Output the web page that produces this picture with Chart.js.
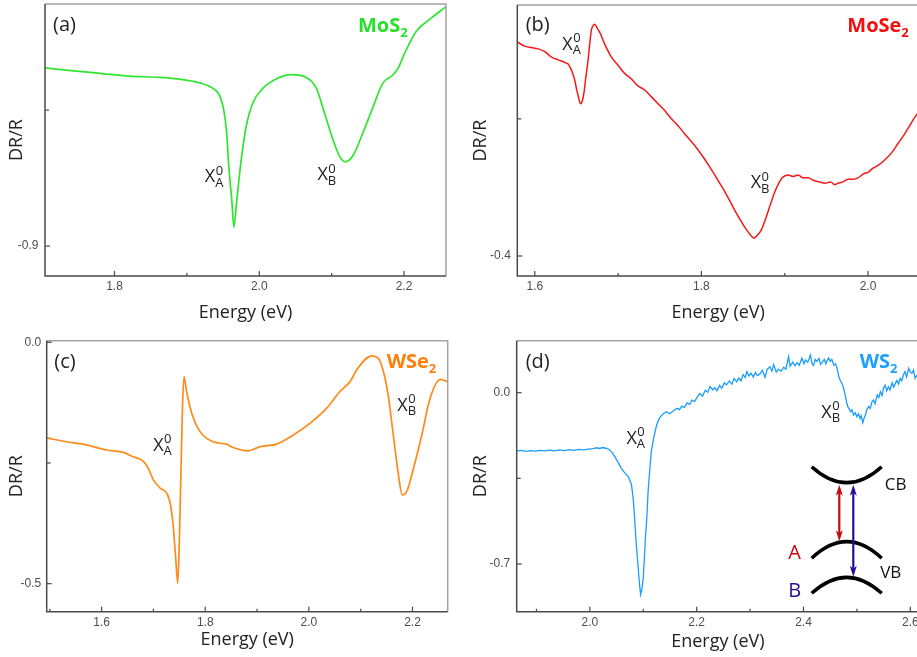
<!DOCTYPE html>
<html>
<head>
<meta charset="utf-8">
<title>Differential reflectance of TMD monolayers</title>
<script src="https://cdn.jsdelivr.net/npm/chart.js@4.4.1/dist/chart.umd.min.js"></script>
<style>
  html, body { margin: 0; padding: 0; background: #fff; overflow: hidden; }
  #wrap { position: relative; width: 917px; height: 657px; overflow: hidden; }
  canvas { position: absolute; }
</style>
</head>
<body>
<div id="wrap">
  <canvas id="panelA" width="458" height="325" style="left:0;top:0"></canvas>
  <canvas id="panelB" width="480" height="325" style="left:458px;top:0"></canvas>
  <canvas id="panelC" width="458" height="332" style="left:0;top:325px"></canvas>
  <canvas id="panelD" width="480" height="332" style="left:458px;top:325px"></canvas>
</div>
<script>
// (a) MoS2
const aEnergy = [1.704, 1.740, 1.780, 1.820, 1.863, 1.899, 1.918, 1.936, 1.945, 1.951,
  1.955, 1.958, 1.962, 1.965, 1.969, 1.975, 1.982, 1.991, 2.005, 2.024,
  2.044, 2.065, 2.079, 2.090, 2.102, 2.111, 2.119, 2.130, 2.143, 2.157,
  2.171, 2.185, 2.192, 2.201, 2.217, 2.236, 2.258]
const aSignal = [-0.769, -0.771, -0.773, -0.775, -0.776, -0.778, -0.780, -0.784, -0.789, -0.800,
  -0.817, -0.842, -0.866, -0.886, -0.866, -0.837, -0.812, -0.795, -0.784, -0.777,
  -0.774, -0.776, -0.784, -0.802, -0.822, -0.834, -0.838, -0.833, -0.817, -0.798,
  -0.780, -0.774, -0.769, -0.758, -0.742, -0.733, -0.724]
const aTicksX = [1.8, 2.0, 2.2]
const aMinorX = [1.9, 2.1]
const aTicksY = [-0.9]
const aMinorY = [-0.8]

// (b) MoSe2
const bEnergy = [1.579, 1.588, 1.596, 1.604, 1.612, 1.620, 1.628, 1.633, 1.636, 1.640,
  1.642, 1.645, 1.648, 1.650, 1.652, 1.654, 1.655, 1.657, 1.659, 1.661,
  1.664, 1.666, 1.668, 1.670, 1.672, 1.675, 1.678, 1.685, 1.692, 1.700,
  1.708, 1.716, 1.724, 1.732, 1.740, 1.748, 1.756, 1.764, 1.772, 1.780,
  1.790, 1.800, 1.810, 1.820, 1.828, 1.836, 1.844, 1.852, 1.858, 1.863,
  1.867, 1.872, 1.877, 1.882, 1.887, 1.892, 1.897, 1.904, 1.910, 1.916,
  1.922, 1.928, 1.935, 1.942, 1.948, 1.955, 1.960, 1.964, 1.970, 1.976,
  1.982, 1.988, 1.995, 2.000, 2.006, 2.012, 2.020, 2.028, 2.036, 2.044,
  2.050, 2.056, 2.062]
const bSignal = [-0.244, -0.247, -0.248, -0.249, -0.251, -0.255, -0.257, -0.258, -0.259, -0.260,
  -0.262, -0.266, -0.272, -0.278, -0.283, -0.288, -0.289, -0.287, -0.281, -0.271,
  -0.257, -0.245, -0.235, -0.232, -0.231, -0.234, -0.237, -0.247, -0.255, -0.261,
  -0.267, -0.271, -0.276, -0.279, -0.284, -0.289, -0.294, -0.300, -0.305, -0.311,
  -0.318, -0.326, -0.335, -0.345, -0.353, -0.362, -0.371, -0.379, -0.384, -0.387,
  -0.385, -0.381, -0.373, -0.364, -0.355, -0.348, -0.343, -0.341, -0.342, -0.341,
  -0.343, -0.343, -0.345, -0.346, -0.347, -0.346, -0.348, -0.347, -0.346, -0.344,
  -0.344, -0.343, -0.340, -0.339, -0.336, -0.334, -0.330, -0.325, -0.318, -0.311,
  -0.305, -0.299, -0.294]
const bTicksX = [1.6, 1.8, 2.0]
const bMinorX = [1.7, 1.9]
const bTicksY = [-0.4]
const bMinorY = [-0.3]

// (c) WSe2
const cEnergy = [1.494, 1.532, 1.564, 1.610, 1.642, 1.661, 1.680, 1.690, 1.700, 1.713,
  1.727, 1.733, 1.738, 1.743, 1.747, 1.750, 1.753, 1.756, 1.759, 1.764,
  1.774, 1.790, 1.815, 1.841, 1.854, 1.883, 1.906, 1.938, 1.970, 2.002,
  2.034, 2.060, 2.079, 2.095, 2.121, 2.134, 2.144, 2.153, 2.163, 2.173,
  2.180, 2.190, 2.202, 2.218, 2.234, 2.254, 2.268]
const cSignal = [-0.198, -0.206, -0.211, -0.223, -0.228, -0.237, -0.246, -0.261, -0.285, -0.302,
  -0.315, -0.337, -0.378, -0.447, -0.499, -0.413, -0.275, -0.137, -0.071, -0.102,
  -0.147, -0.185, -0.206, -0.211, -0.218, -0.225, -0.216, -0.211, -0.192, -0.168,
  -0.137, -0.102, -0.082, -0.053, -0.028, -0.033, -0.061, -0.109, -0.192, -0.275,
  -0.316, -0.306, -0.261, -0.192, -0.116, -0.077, -0.082]
const cTicksX = [1.6, 1.8, 2.0, 2.2]
const cMinorX = [1.5, 1.7, 1.9, 2.1]
const cTicksY = [0.0, -0.5]
const cMinorY = [-0.25]

// (d) WS2
const dEnergy = [1.863, 1.872, 1.880, 1.889, 1.898, 1.907, 1.916, 1.925, 1.934, 1.943,
  1.952, 1.961, 1.970, 1.979, 1.988, 1.997, 2.006, 2.013, 2.018, 2.024,
  2.030, 2.036, 2.042, 2.047, 2.053, 2.059, 2.066, 2.072, 2.078, 2.081,
  2.083, 2.085, 2.087, 2.090, 2.092, 2.094, 2.095, 2.097, 2.100, 2.102,
  2.104, 2.107, 2.109, 2.112, 2.115, 2.119, 2.125, 2.130, 2.135, 2.140,
  2.144, 2.149, 2.153, 2.158, 2.163, 2.168, 2.172, 2.177, 2.182, 2.187,
  2.191, 2.196, 2.201, 2.206, 2.211, 2.216, 2.221, 2.225, 2.230, 2.234,
  2.238, 2.243, 2.247, 2.252, 2.256, 2.261, 2.266, 2.270, 2.275, 2.279,
  2.283, 2.287, 2.291, 2.294, 2.298, 2.302, 2.306, 2.310, 2.314, 2.319,
  2.323, 2.328, 2.332, 2.337, 2.341, 2.344, 2.349, 2.353, 2.358, 2.363,
  2.367, 2.372, 2.375, 2.380, 2.384, 2.388, 2.392, 2.397, 2.401, 2.404,
  2.408, 2.413, 2.416, 2.419, 2.422, 2.425, 2.429, 2.432, 2.435, 2.439,
  2.442, 2.444, 2.447, 2.450, 2.453, 2.457, 2.460, 2.463, 2.466, 2.469,
  2.472, 2.475, 2.478, 2.481, 2.483, 2.486, 2.488, 2.491, 2.494, 2.497,
  2.500, 2.503, 2.506, 2.508, 2.511, 2.514, 2.516, 2.519, 2.522, 2.525,
  2.528, 2.531, 2.534, 2.538, 2.541, 2.544, 2.547, 2.550, 2.553, 2.556,
  2.559, 2.562, 2.566, 2.569, 2.572, 2.575, 2.578, 2.581, 2.584, 2.587,
  2.590, 2.593, 2.597, 2.600, 2.603, 2.606, 2.609, 2.612, 2.616]
const dSignal = [-0.238, -0.236, -0.240, -0.237, -0.239, -0.236, -0.238, -0.235, -0.238, -0.234,
  -0.237, -0.233, -0.236, -0.232, -0.234, -0.231, -0.229, -0.225, -0.228, -0.224,
  -0.227, -0.232, -0.245, -0.262, -0.285, -0.309, -0.330, -0.343, -0.377, -0.430,
  -0.486, -0.555, -0.622, -0.700, -0.758, -0.805, -0.824, -0.810, -0.758, -0.680,
  -0.595, -0.500, -0.405, -0.320, -0.241, -0.190, -0.132, -0.105, -0.091, -0.082,
  -0.078, -0.086, -0.080, -0.072, -0.064, -0.069, -0.055, -0.060, -0.042, -0.048,
  -0.030, -0.036, -0.018, -0.003, -0.014, 0.010, 0.002, 0.025, 0.012, 0.020,
  0.008, 0.030, 0.018, 0.040, 0.032, 0.048, 0.035, 0.058, 0.044, 0.060,
  0.048, 0.074, 0.062, 0.086, 0.068, 0.080, 0.064, 0.082, 0.070, 0.078,
  0.092, 0.063, 0.095, 0.106, 0.088, 0.115, 0.084, 0.096, 0.088, 0.104,
  0.096, 0.147, 0.108, 0.125, 0.110, 0.122, 0.112, 0.141, 0.118, 0.134,
  0.124, 0.154, 0.118, 0.112, 0.136, 0.128, 0.140, 0.116, 0.124, 0.136,
  0.118, 0.130, 0.142, 0.128, 0.136, 0.112, 0.118, 0.100, 0.065, 0.050,
  0.038, 0.020, -0.009, -0.040, -0.057, -0.068, -0.078, -0.070, -0.091, -0.082,
  -0.098, -0.086, -0.105, -0.094, -0.123, -0.100, -0.091, -0.068, -0.057, -0.064,
  -0.038, -0.030, -0.045, -0.009, -0.020, 0.004, -0.012, 0.020, 0.031, 0.008,
  0.024, 0.011, 0.040, 0.022, 0.038, 0.050, 0.036, 0.059, 0.048, 0.072,
  0.086, 0.064, 0.100, 0.084, 0.079, 0.092, 0.059, 0.070, 0.062]
const dTicksX = [2.0, 2.2, 2.4, 2.6]
const dMinorX = [1.9, 2.1, 2.3, 2.5]
const dTicksY = [0.0, -0.7]
const dMinorY = [-0.35]

Chart.defaults.font.family = '"Open Sans", sans-serif'

const TEXT = '#222'
const TITLE_FONT = { family: '"Open Sans", sans-serif', size: 18 }
const TICK_FONT = { family: '"Liberation Sans", Arial, sans-serif', size: 12 }

// axis frame with inward ticks, left/bottom dark, top/right light
const framePlugin = {
  id: 'frame',
  afterDraw(chart, args, o) {
    const { ctx, chartArea: a, scales: { x, y } } = chart
    ctx.save()
    ctx.lineWidth = 1.5
    ctx.strokeStyle = '#a3a3a3'
    ctx.beginPath()
    ctx.moveTo(a.left, a.top)
    ctx.lineTo(a.right, a.top)
    if (!o.openRight) ctx.lineTo(a.right, a.bottom)
    ctx.stroke()

    ctx.strokeStyle = '#4a4a4a'
    ctx.beginPath()
    ctx.moveTo(a.left, a.top)
    ctx.lineTo(a.left, a.bottom)
    ctx.lineTo(a.right, a.bottom)
    ctx.stroke()

    ctx.lineWidth = 1.2
    const xt = (vals, len) => vals.forEach(v => {
      const p = x.getPixelForValue(v)
      ctx.beginPath(); ctx.moveTo(p, a.bottom); ctx.lineTo(p, a.bottom - len); ctx.stroke()
    })
    const yt = (vals, len) => vals.forEach(v => {
      const p = y.getPixelForValue(v)
      ctx.beginPath(); ctx.moveTo(a.left, p); ctx.lineTo(a.left + len, p); ctx.stroke()
    })
    xt(o.xMajor, 5); xt(o.xMinor, 3)
    yt(o.yMajor, 5); yt(o.yMinor, 4)
    ctx.restore()
  }
}

// X with superscript 0 and a band subscript
function drawExciton(ctx, px, py, sub) {
  ctx.fillStyle = TEXT
  ctx.textAlign = 'left'
  ctx.textBaseline = 'alphabetic'
  ctx.font = '18px "Open Sans"'
  ctx.fillText('X', px, py)
  const w = ctx.measureText('X').width
  ctx.font = '13px "Open Sans"'
  ctx.fillText('0', px + w + 0.5, py - 7.5)
  ctx.fillText(sub, px + w, py + 4.5)
}

const labelPlugin = {
  id: 'notes',
  afterDraw(chart, args, o) {
    const { ctx, chartArea: a, scales: { x, y } } = chart
    ctx.save()
    ctx.textAlign = 'left'
    ctx.textBaseline = 'alphabetic'
    // panel letter
    ctx.fillStyle = TEXT
    ctx.font = '20px "Open Sans"'
    ctx.fillText(o.letter, a.left + o.letterAt[0], a.top + o.letterAt[1])
    // compound name with subscript
    ctx.fillStyle = o.color
    ctx.font = 'bold 20px "Open Sans"'
    const fx = a.left + o.formulaAt[0], fy = a.top + o.formulaAt[1]
    ctx.fillText(o.formula[0], fx, fy)
    const fw = ctx.measureText(o.formula[0]).width
    ctx.font = 'bold 13px "Open Sans"'
    ctx.fillText(o.formula[1], fx + fw, fy + 5)
    // exciton labels, anchored in data units
    o.excitons.forEach(e => drawExciton(ctx, x.getPixelForValue(e.x), y.getPixelForValue(e.y), e.sub))
    ctx.restore()
  }
}

// band schematic for the WS2 panel
const bandPlugin = {
  id: 'bands',
  afterDraw(chart, args, o) {
    if (!o.show) return
    const { ctx, chartArea: a } = chart
    const L = a.left, T = a.top
    ctx.save()
    const arc = (x0, x1, yEnd, yMid) => {
      ctx.beginPath()
      ctx.moveTo(L + x0, T + yEnd)
      ctx.quadraticCurveTo(L + (x0 + x1) / 2, T + 2 * yMid - yEnd, L + x1, T + yEnd)
      ctx.stroke()
    }
    ctx.strokeStyle = '#000'
    ctx.lineWidth = 3.5
    ctx.lineCap = 'butt'
    arc(295, 365, 126, 142)
    arc(295, 365, 217.6, 201)
    arc(295, 365, 252.6, 236.6)

    const arrow = (px, y0, y1, color) => {
      ctx.strokeStyle = color
      ctx.fillStyle = color
      ctx.lineWidth = 2.2
      ctx.beginPath(); ctx.moveTo(L + px, T + y0 + 4); ctx.lineTo(L + px, T + y1 - 4); ctx.stroke()
      const head = (yt, dir) => {
        ctx.beginPath()
        ctx.moveTo(L + px, T + yt)
        ctx.lineTo(L + px - 3.5, T + yt + dir * 11)
        ctx.lineTo(L + px, T + yt + dir * 8)
        ctx.lineTo(L + px + 3.5, T + yt + dir * 11)
        ctx.closePath()
        ctx.fill()
      }
      head(y0, 1); head(y1, -1)
    }
    arrow(322.6, 144, 200.5, '#c8080d')
    arrow(336.6, 144, 236, '#2b0c96')

    ctx.font = '17px "Open Sans"'
    ctx.fillStyle = '#111'
    ctx.fillText('CB', L + 368, T + 149.5)
    ctx.fillText('VB', L + 363.5, T + 237.5)
    ctx.font = '20px "Open Sans"'
    ctx.fillStyle = '#c8080d'
    ctx.fillText('A', L + 271.5, T + 218.5)
    ctx.fillStyle = '#2b0c96'
    ctx.fillText('B', L + 271.5, T + 256)
    ctx.restore()
  }
}

function makePanel(p) {
  const points = p.energy.map((e, i) => ({ x: e, y: p.signal[i] }))
  return new Chart(document.getElementById(p.id).getContext('2d'), {
    type: 'line',
    data: {
      datasets: [{
        data: points,
        borderColor: p.color,
        borderWidth: p.lineWidth,
        pointRadius: 0,
        fill: false,
        cubicInterpolationMode: p.smooth ? 'monotone' : 'default',
        tension: 0
      }]
    },
    options: {
      responsive: false,
      animation: false,
      devicePixelRatio: 1,
      layout: { padding: { top: p.box.top, right: p.box.right, left: 0, bottom: 0 } },
      plugins: {
        legend: { display: false },
        tooltip: { enabled: false },
        frame: { xMajor: p.xTicks, xMinor: p.xMinor, yMajor: p.yTicks, yMinor: p.yMinor, openRight: p.openRight },
        notes: { letter: p.letter, letterAt: p.letterAt, formula: p.formula, formulaAt: p.formulaAt, color: p.textColor, excitons: p.excitons },
        bands: { show: !!p.bands }
      },
      scales: {
        x: {
          type: 'linear',
          min: p.xRange[0],
          max: p.xRange[1],
          grid: { display: false, drawTicks: false },
          border: { display: false },
          afterBuildTicks: s => { s.ticks = p.xTicks.map(v => ({ value: v })) },
          // fixed axis band; label overhang must not push the plot area
          afterFit: s => { s.height = p.box.xh; s.paddingLeft = 0; s.paddingRight = 0 },
          ticks: { autoSkip: false, maxRotation: 0, padding: p.tickPad[0], font: TICK_FONT, color: '#4d4d4d', callback: v => v.toFixed(1) },
          title: { display: true, text: 'Energy (eV)', font: TITLE_FONT, color: TEXT, padding: { top: 0, bottom: p.titlePad[0] } }
        },
        y: {
          type: 'linear',
          min: p.yRange[0],
          max: p.yRange[1],
          grid: { display: false, drawTicks: false },
          border: { display: false },
          afterBuildTicks: s => { s.ticks = p.yTicks.map(v => ({ value: v })) },
          afterFit: s => { s.width = p.box.yw; s.paddingTop = 0; s.paddingBottom = 0 },
          ticks: { autoSkip: false, padding: p.tickPad[1], font: TICK_FONT, color: '#4d4d4d', callback: v => v.toFixed(1) },
          title: { display: true, text: 'DR/R', font: TITLE_FONT, color: TEXT, padding: { top: p.titlePad[1], bottom: 0 } }
        }
      }
    },
    plugins: [framePlugin, labelPlugin, bandPlugin]
  })
}

makePanel({
  id: 'panelA', energy: aEnergy, signal: aSignal, color: '#2fe52f', textColor: '#27e027', lineWidth: 1.7, smooth: true,
  xRange: [1.704, 2.258], yRange: [-0.922, -0.722],
  xTicks: aTicksX, xMinor: aMinorX, yTicks: aTicksY, yMinor: aMinorY,
  box: { top: 4, right: 12, yw: 45, xh: 49 }, tickPad: [3.5, 6.5], titlePad: [1.5, 6.2],
  letter: '(a)', letterAt: [8, 27], formula: ['MoS', '2'], formulaAt: [313, 27.7],
  excitons: [{ x: 1.9247, y: -0.853, sub: 'A' }, { x: 2.0804, y: -0.8515, sub: 'B' }]
})

makePanel({
  id: 'panelB', energy: bEnergy, signal: bSignal, color: '#f51818', textColor: '#f20f0f', lineWidth: 1.5, smooth: true,
  xRange: [1.579, 2.0612], yRange: [-0.4146, -0.217], openRight: true,
  xTicks: bTicksX, xMinor: bMinorX, yTicks: bTicksY, yMinor: bMinorY,
  box: { top: 5, right: 19, yw: 59.3, xh: 49 }, tickPad: [3.5, 6.5], titlePad: [0.9, 12.5],
  letter: '(b)', letterAt: [8.4, 26], formula: ['MoSe', '2'], formulaAt: [330, 26.7],
  excitons: [{ x: 1.6331, y: -0.2495, sub: 'A' }, { x: 1.8591, y: -0.3507, sub: 'B' }]
})

makePanel({
  id: 'panelC', energy: cEnergy, signal: cSignal, color: '#ff8a1a', textColor: '#ff7f0a', lineWidth: 1.7, smooth: true,
  xRange: [1.494, 2.268], yRange: [-0.558, 0.0033],
  xTicks: cTicksX, xMinor: cMinorX, yTicks: cTicksY, yMinor: cMinorY,
  box: { top: 15.7, right: 10.3, yw: 46.7, xh: 45.3 }, tickPad: [3.8, 5.5], titlePad: [6.2, 5.9],
  letter: '(c)', letterAt: [7.6, 27], formula: ['WSe', '2'], formulaAt: [340, 27.6],
  excitons: [{ x: 1.6996, y: -0.2251, sub: 'A' }, { x: 2.1707, y: -0.1423, sub: 'B' }]
})

makePanel({
  id: 'panelD', energy: dEnergy, signal: dSignal, color: '#1a9dff', textColor: '#1aa0ff', lineWidth: 1.3, smooth: false,
  xRange: [1.863, 2.6163], yRange: [-0.895, 0.2125], openRight: true,
  xTicks: dTicksX, xMinor: dMinorX, yTicks: dTicksY, yMinor: dMinorY,
  box: { top: 15.7, right: 19, yw: 58.7, xh: 45.3 }, tickPad: [3.8, 6.5], titlePad: [4.5, 12.5],
  letter: '(d)', letterAt: [9, 27], formula: ['WS', '2'], formulaAt: [343, 27],
  excitons: [{ x: 2.0685, y: -0.2096, sub: 'A' }, { x: 2.4333, y: -0.1022, sub: 'B' }],
  bands: true
})
</script>
</body>
</html>
